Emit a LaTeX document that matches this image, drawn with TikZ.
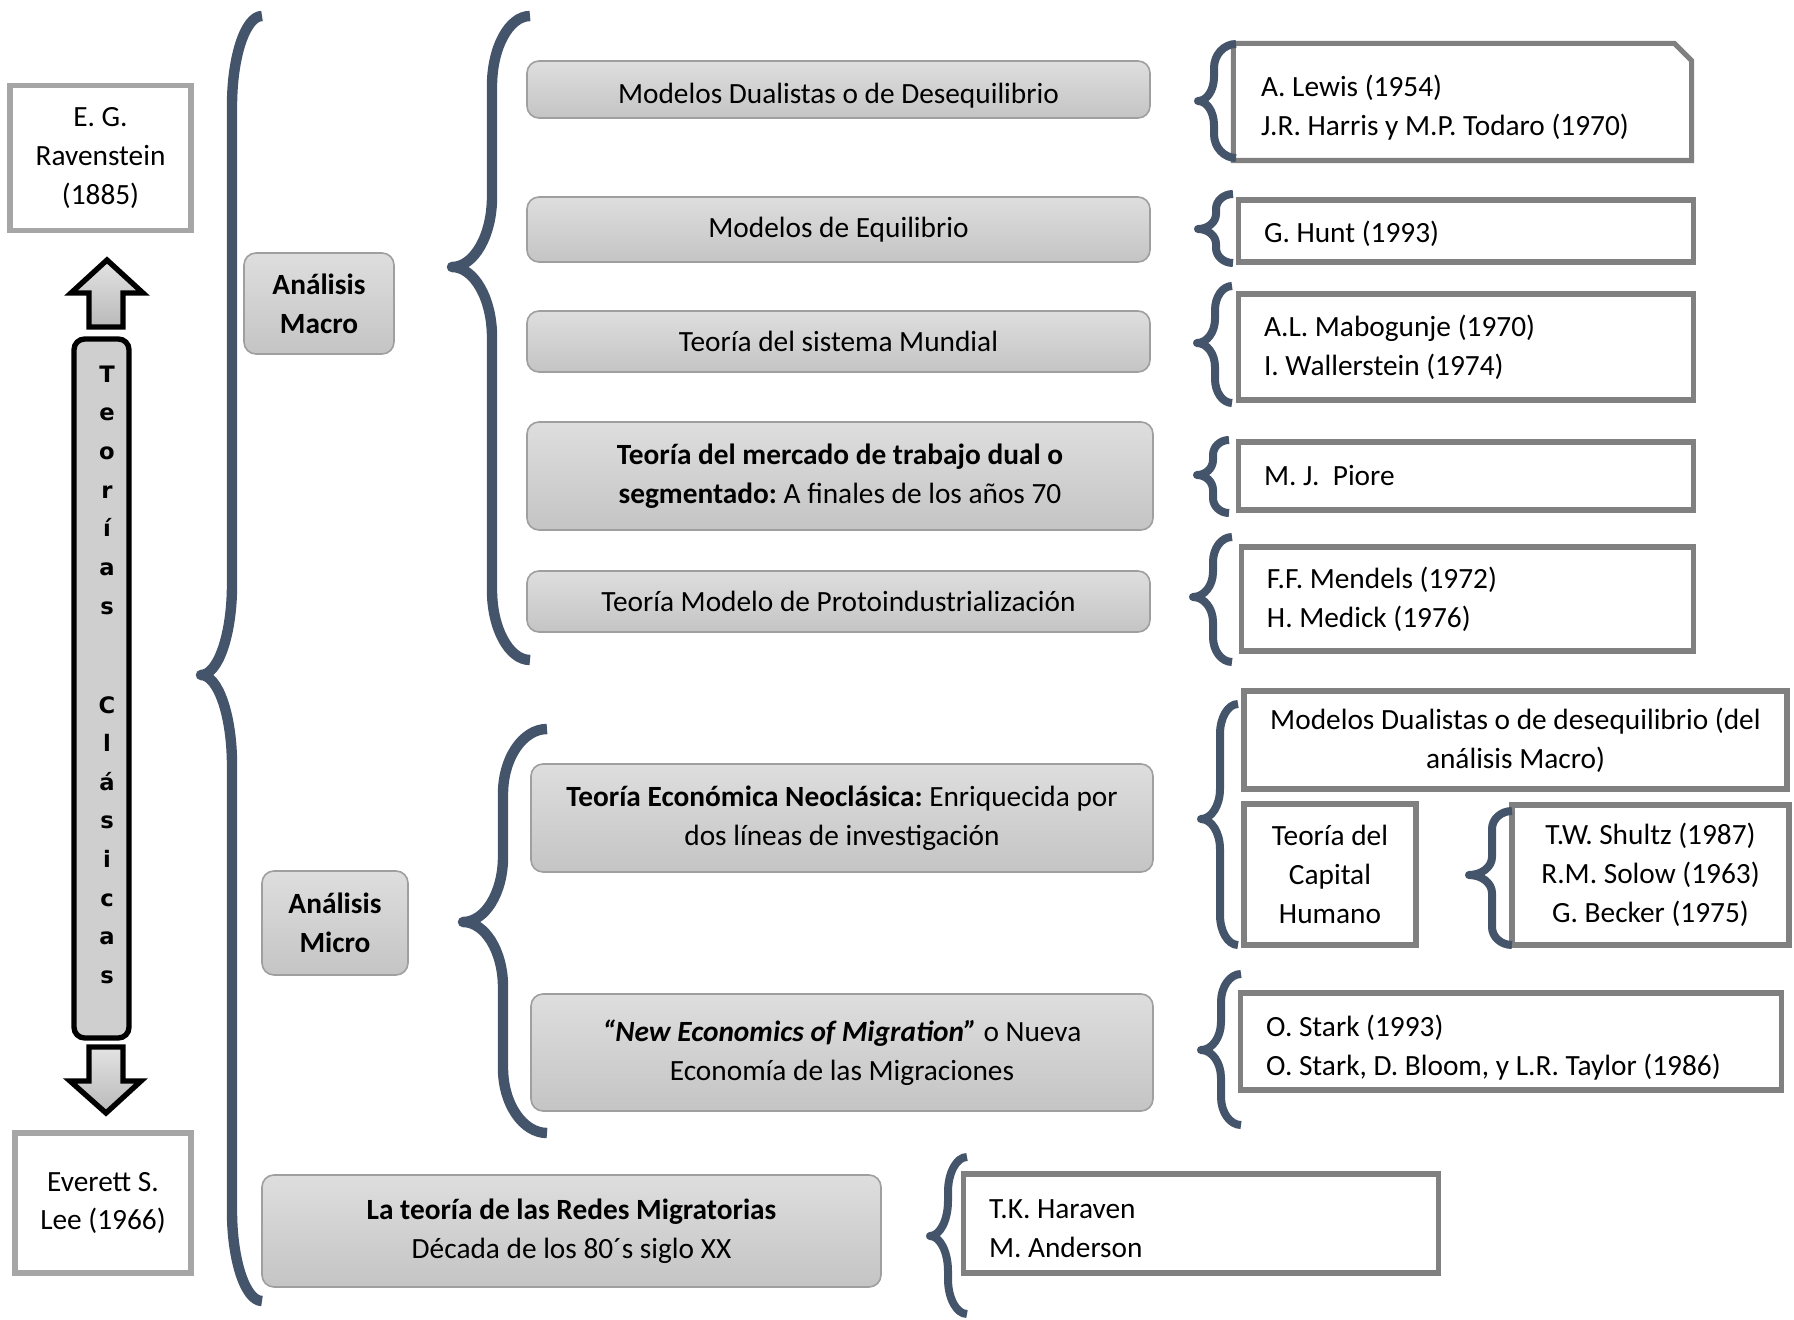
\documentclass[tikz,border=0pt]{standalone}
\usepackage{fontspec}
\setmainfont{Carlito}
\newfontfamily\vertfont{DejaVu Sans}
\frenchspacing

\definecolor{slate}{HTML}{44546A}
\definecolor{refgray}{HTML}{808080}
\definecolor{autgray}{HTML}{A6A6A6}
\def\px{0.375pt}

\tikzset{
  sz/.style 2 args={minimum width={#1*\px}, minimum height={#2*\px}},
  gbox/.style={draw=gray!75, line width=0.6pt, rounded corners=4.5pt,
    top color=gray!26, bottom color=gray!46, align=center, inner sep=2pt},
  autor/.style={draw=autgray, line width=1.9pt, align=center, inner sep=2pt},
  ref/.style={draw=refgray, line width=1.9pt, align=flush left, inner xsep=9.4pt, inner ysep=2pt},
  refc/.style={draw=refgray, line width=1.9pt, align=center, inner sep=2pt},
  bigbrace/.style={draw=slate, line width=3.9pt, line join=round},
  smallbrace/.style={draw=slate, line width=3pt, line join=round},
  blockarrow/.style={draw=black, line width=2pt, top color=gray!22, bottom color=gray!55},
  letra/.style={font=\vertfont\bfseries\fontsize{8.5}{10}\selectfont, anchor=base, inner sep=0pt}
}

% llave: punta x, barra x, extremos x, y arriba, y punta, y abajo, radio
\newcommand\llave[8]{%
  \draw[#1] (#4,#5) .. controls ({#4-0.55*(#4-#3)},#5) and (#3,{#5+0.45*#8}) .. (#3,{#5+#8})
    -- (#3,{#6-#8}) .. controls (#3,{#6-0.45*#8}) and ({#2+0.55*(#3-#2)},#6) .. (#2,#6)
    .. controls ({#2+0.55*(#3-#2)},#6) and (#3,{#6+0.45*#8}) .. (#3,{#6+#8})
    -- (#3,{#7-#8}) .. controls (#3,{#7-0.45*#8}) and ({#4-0.55*(#4-#3)},#7) .. (#4,#7);}

\begin{document}
\begin{tikzpicture}[x=0.375pt, y=-0.375pt, font=\fontsize{11}{14.6}\selectfont]
\useasboundingbox (0,0) rectangle (1794,1320);

% autores clasicos
\node[autor, sz={181}{145}] (raven) at (100.5,158) {E. G.\\Ravenstein\\(1885)};
\node[autor, sz={176}{140}] (lee) at (103,1203) {Everett S.\\Lee (1966)};

% barra teorias clasicas
\node[draw=black, line width=2pt, rounded corners=4pt, fill=gray!38, sz={55}{699}] (tc) at (101.5,688.5) {};
\foreach \ch [count=\k from 0] in {T,e,o,r,í,a,s}
  \node[letra] (ta\k) at (107,382+38.7*\k) {\ch};
\foreach \ch [count=\k from 0] in {C,l,á,s,i,c,a,s}
  \node[letra] (tb\k) at (107,713+38.6*\k) {\ch};
\draw[blockarrow] (107,260) -- (143,293) -- (123,293) -- (123,327) -- (89,327) -- (89,293) -- (71,293) -- cycle;
\draw[blockarrow] (89,1047) -- (123,1047) -- (123,1081) -- (141,1081) -- (106,1113) -- (70,1081) -- (89,1081) -- cycle;

% analisis
\node[gbox, font=\fontsize{11}{14.6}\selectfont\bfseries, sz={150}{101}] (macro) at (319,303.5) {Análisis\\Macro};
\node[gbox, font=\fontsize{11}{14.6}\selectfont\bfseries, sz={146}{104}] (micro) at (335,923) {Análisis\\Micro};

% teorias macro
\node[gbox, sz={623}{57}] (dual) at (838.5,89.5) {\rule{0pt}{12.5pt}Modelos Dualistas o de Desequilibrio};
\node[gbox, sz={623}{65}] (equi) at (838.5,229.5) {Modelos de Equilibrio};
\node[gbox, sz={623}{61}] (mundial) at (838.5,341.5) {Teoría del sistema Mundial};
\node[gbox, sz={626}{108}] (mercado) at (840,476) {\textbf{Teoría del mercado de trabajo dual o}\\\textbf{segmentado:} A finales de los años 70};
\node[gbox, sz={623}{61}] (proto) at (838.5,601.5) {Teoría Modelo de Protoindustrialización};

% teorias micro
\node[gbox, sz={622}{108}] (neo) at (842,818) {\textbf{Teoría Económica Neoclásica:} Enriquecida por\\dos líneas de investigación};
\node[gbox, sz={622}{117}] (nem) at (842,1052.5) {\textbf{\textit{“New Economics of Migration”}} o Nueva\\Economía de las Migraciones};
\node[gbox, sz={619}{112}] (redes) at (571.5,1231) {\textbf{La teoría de las Redes Migratorias}\\Década de los 80´s siglo XX};

% autores
\node[ref, draw=none, text width=151.1pt, minimum height={112*\px}] (lewis) at (1462.5,102) {\rule{0pt}{12.5pt}A. Lewis (1954)\\J.R. Harris y M.P. Todaro (1970)};
\draw[draw=refgray, line width=1.9pt] (lewis.north west) -- ([xshift=-6.4pt]lewis.north east) -- ([yshift=-6.4pt]lewis.north east) -- (lewis.south east) -- (lewis.south west) -- cycle;
\node[ref, text width=151.5pt, minimum height={62*\px}] (hunt) at (1466,231) {\rule{0pt}{10.5pt}G. Hunt (1993)};
\node[ref, text width=151.5pt, minimum height={106*\px}] (mabo) at (1466,347) {A.L. Mabogunje (1970)\\I. Wallerstein (1974)};
\node[ref, text width=151.5pt, minimum height={68*\px}] (piore) at (1466,476) {M. J.~ Piore};
\node[ref, text width=150.4pt, minimum height={104*\px}] (mendels) at (1467.5,599) {F.F. Mendels (1972)\\H. Medick (1976)};
\node[refc, sz={543}{98}] (dualmac) at (1515.5,740) {Modelos Dualistas o de desequilibrio (del\\análisis Macro)};
\node[refc, sz={172}{141}] (capital) at (1330,874.5) {Teoría del\\Capital\\Humano};
\node[refc, sz={277}{140}] (shultz) at (1650.5,875) {T.W. Shultz (1987)\\R.M. Solow (1963)\\G. Becker (1975)};
\node[ref, text width=183.75pt, minimum height={97*\px}] (stark) at (1511,1041.5) {\rule{0pt}{12.5pt}O. Stark (1993)\\O. Stark, D. Bloom, y L.R. Taylor (1986)};
\node[ref, text width=159pt, minimum height={99*\px}] (haraven) at (1201,1223.5) {\rule{0pt}{11pt}T.K. Haraven\\M. Anderson};

% llaves
\llave{bigbrace}{201}{232}{262}{16}{675}{1301}{90}
\llave{bigbrace}{452}{492}{530}{16}{267}{660}{70}
\llave{bigbrace}{463}{503}{547}{729}{922}{1133}{65}
\llave{smallbrace}{1198}{1214}{1236}{44}{101}{158}{24}
\llave{smallbrace}{1198}{1216}{1233}{194}{229}{263}{15}
\llave{smallbrace}{1197}{1215}{1232}{286}{343}{403}{24}
\llave{smallbrace}{1197}{1213}{1229}{440}{475}{513}{15}
\llave{smallbrace}{1193}{1213}{1232}{537}{597}{662}{25}
\llave{smallbrace}{1201}{1220}{1238}{704}{819}{945}{30}
\llave{smallbrace}{1469}{1492}{1512}{811}{875}{945}{18}
\llave{smallbrace}{1201}{1221}{1241}{974}{1050}{1125}{28}
\llave{smallbrace}{930}{948}{967}{1157}{1236}{1314}{35}
\end{tikzpicture}
\end{document}
